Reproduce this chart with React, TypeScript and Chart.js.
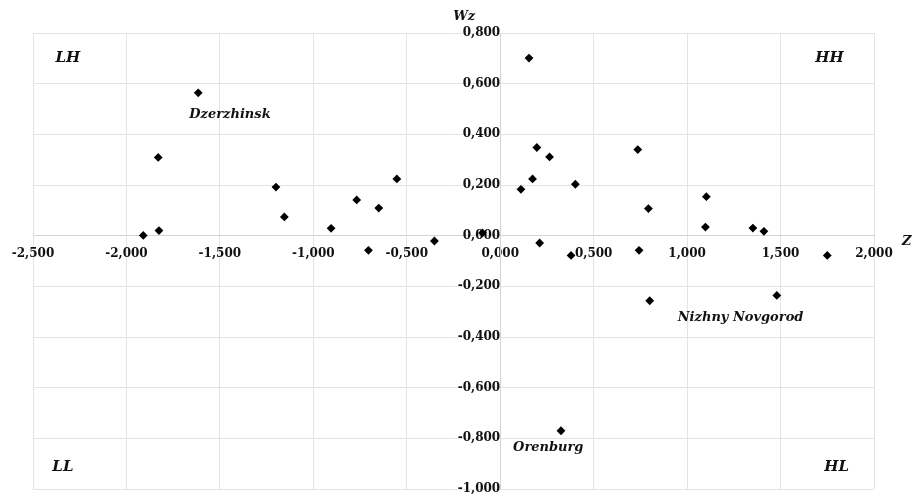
import React, { useEffect, useRef } from "react";
import { Chart, registerables } from "chart.js";

Chart.register(...registerables);

// Moran scatterplot: standardized value (Z) vs spatial lag (Wz)
const zValues = [
  -1.616, -1.83, -1.2, -1.155, -0.768, -0.65, -0.553, -0.905, -1.91, -1.826, -0.352, -0.705,
  0.154, 0.196, 0.264, 0.173, 0.111, 0.402, 0.736, 0.793, 1.103, 1.098, 1.352, 1.411,
  -0.095, 0.211, 0.379, 0.743, 1.75, 0.8, 1.48, 0.325,
];
const wzValues = [
  0.564, 0.309, 0.192, 0.074, 0.141, 0.109, 0.224, 0.029, 0.001, 0.02, -0.021, -0.058,
  0.701, 0.348, 0.311, 0.224, 0.183, 0.203, 0.34, 0.107, 0.154, 0.034, 0.03, 0.017,
  0.011, -0.029, -0.078, -0.058, -0.078, -0.257, -0.236, -0.77,
];

const xTicks = [-2.5, -2.0, -1.5, -1.0, -0.5, 0, 0.5, 1.0, 1.5, 2.0];
const yTicks = [0.8, 0.6, 0.4, 0.2, 0, -0.2, -0.4, -0.6, -0.8, -1.0];

const quadrantLabels = ["LH", "HH", "LL", "HL"];
const quadrantAnchors = [
  [-2.314, 0.7],
  [1.762, 0.7],
  [-2.34, -0.913],
  [1.8, -0.913],
];
const cityLabels = ["Dzerzhinsk", "Nizhny Novgorod", "Orenburg"];
const cityAnchors = [
  [-1.446, 0.478],
  [1.286, -0.324],
  [0.257, -0.838],
];

const fmt = (v: number) => {
  const s = Math.abs(v) < 1e-9 ? 0 : v;
  return s.toFixed(3).replace(".", ",");
};

const zeroPadding = (scale: any) => {
  scale.paddingTop = 0;
  scale.paddingBottom = 0;
  scale.paddingLeft = 0;
  scale.paddingRight = 0;
};

const labelsPlugin = {
  id: "moranLabels",
  afterDatasetsDraw(chart: any) {
    const { ctx, scales, chartArea } = chart;
    const x = scales.x;
    const y = scales.y;
    ctx.save();
    ctx.fillStyle = "#111";
    ctx.textAlign = "center";
    ctx.textBaseline = "middle";
    ctx.font = "italic bold 15px 'DejaVu Serif'";
    quadrantLabels.forEach((t, i) => {
      ctx.fillText(t, x.getPixelForValue(quadrantAnchors[i][0]), y.getPixelForValue(quadrantAnchors[i][1]));
    });
    ctx.font = "italic bold 13px 'DejaVu Serif'";
    cityLabels.forEach((t, i) => {
      ctx.fillText(t, x.getPixelForValue(cityAnchors[i][0]), y.getPixelForValue(cityAnchors[i][1]));
    });
    ctx.font = "italic bold 13px 'DejaVu Serif'";
    ctx.fillText("Wz", x.getPixelForValue(0) - 36, chartArea.top - 16);
    ctx.textAlign = "left";
    ctx.fillText("Z", chartArea.right + 28, y.getPixelForValue(0) + 6);
    ctx.restore();
  },
};

export default function App() {
  const ref = useRef<HTMLCanvasElement>(null);
  useEffect(() => {
    document.body.style.margin = "0";
    if (!ref.current) return;
    const chart = new Chart(ref.current, {
      type: "scatter",
      data: {
        datasets: [
          {
            data: zValues.map((z, i) => ({ x: z, y: wzValues[i] })),
            pointStyle: "rectRot",
            pointRadius: 4.4,
            backgroundColor: "#000",
            borderColor: "#000",
            borderWidth: 0,
          },
        ],
      },
      options: {
        animation: false,
        responsive: false,
        maintainAspectRatio: false,
        layout: { padding: { left: 33, top: 33, right: 38, bottom: 5 } },
        plugins: { legend: { display: false }, tooltip: { enabled: false } },
        scales: {
          x: {
            type: "linear",
            position: { y: 0 } as any,
            min: -2.5,
            max: 2.0,
            afterBuildTicks: (axis: any) => {
              axis.ticks = xTicks.map((v) => ({ value: v }));
            },
            afterFit: zeroPadding,
            grid: { color: "#e4e4e4", lineWidth: 1, drawTicks: false },
            border: { color: "#d4d4d4", width: 1 },
            ticks: {
              padding: 11,
              color: "#111",
              font: { family: "'DejaVu Serif'", weight: "bold", size: 12 },
              callback: (v: any) => fmt(Number(v)),
              autoSkip: false,
              maxRotation: 0,
            },
          },
          y: {
            type: "linear",
            position: { x: 0 } as any,
            min: -1.0,
            max: 0.8,
            afterBuildTicks: (axis: any) => {
              axis.ticks = yTicks.map((v) => ({ value: v }));
            },
            afterFit: zeroPadding,
            grid: { color: "#e4e4e4", lineWidth: 1, drawTicks: false },
            border: { color: "#d4d4d4", width: 1 },
            ticks: {
              padding: 14,
              color: "#111",
              font: { family: "'DejaVu Serif'", weight: "bold", size: 12 },
              callback: (v: any) => fmt(Number(v)),
              autoSkip: false,
            },
          },
        },
      },
      plugins: [labelsPlugin],
    });
    return () => chart.destroy();
  }, []);
  return (
    <div style={{ width: 912, height: 494, background: "#fff" }}>
      <canvas ref={ref} width={912} height={494} style={{ display: "block" }} />
    </div>
  );
}
